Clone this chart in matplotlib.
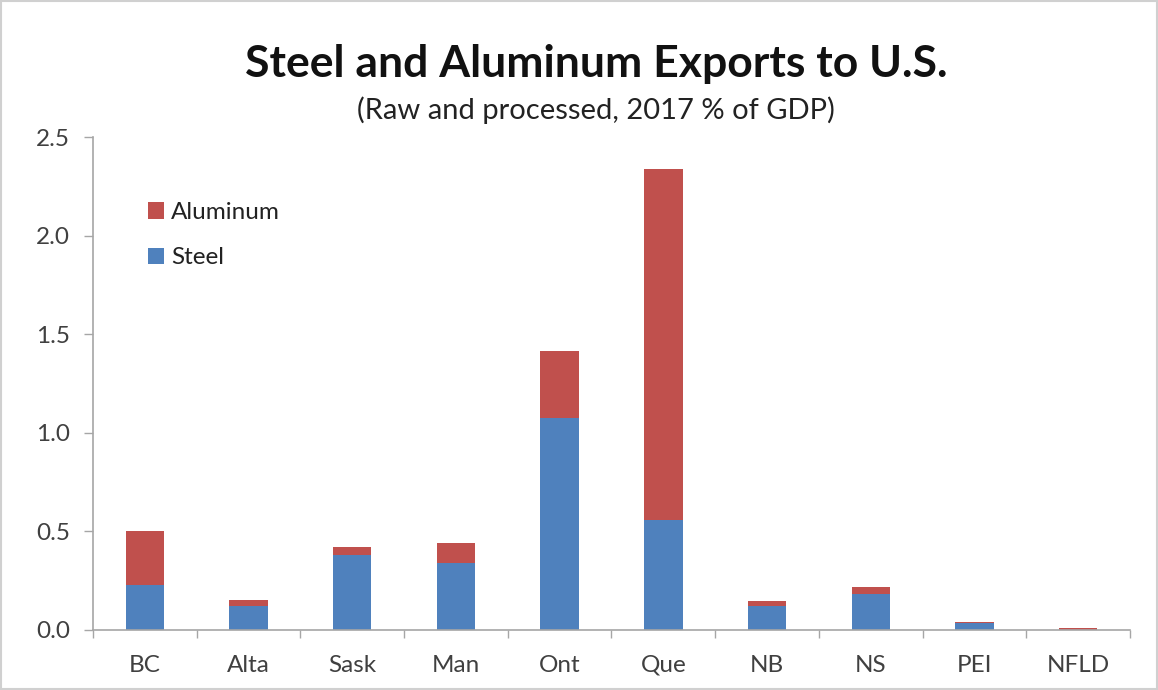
import matplotlib
matplotlib.use("Agg")
import matplotlib.pyplot as plt
from matplotlib.patches import Rectangle
import numpy as np

provinces = ["BC", "Alta", "Sask", "Man", "Ont", "Que", "NB", "NS", "PEI", "NFLD"]
steel = [0.23, 0.12, 0.38, 0.34, 1.075, 0.56, 0.12, 0.18, 0.034, 0.0]
aluminum = [0.27, 0.03, 0.04, 0.10, 0.34, 1.78, 0.025, 0.04, 0.007, 0.012]
yticks = [0.0, 0.5, 1.0, 1.5, 2.0, 2.5]

plt.rcParams['font.family'] = ['Lato', 'DejaVu Sans']

fig = plt.figure(figsize=(11.58, 6.9), dpi=100)
ax = fig.add_axes([0.0803, 0.087, 0.8955, 0.7144])

x = np.arange(len(provinces))
blue = "#4F81BD"
red = "#C0504D"
w = 0.37
ax.bar(x, steel, width=w, color=blue, label="Steel", zorder=2)
ax.bar(x, aluminum, width=w, bottom=steel, color=red, label="Aluminum", zorder=2)

ax.set_xlim(-0.5, len(provinces) - 0.5)
ax.set_ylim(0, 2.5)
ax.set_yticks(yticks)
ax.set_yticklabels([f"{v:.1f}" for v in yticks], fontsize=17.5, color="#404040")
ax.set_xticks(x)
ax.set_xticklabels(provinces, fontsize=17.5, color="#404040")
ax.tick_params(axis='x', length=0, pad=18)
ax.tick_params(axis='y', length=6.5, width=1, color="#A6A6A6", direction='out', pad=10)
ax.set_xticks(np.arange(-0.5, len(provinces) + 0.5, 1), minor=True)
ax.tick_params(axis='x', which='minor', length=5.5, width=1, color="#A6A6A6", direction='out')

for s in ["top", "right"]:
    ax.spines[s].set_visible(False)
for s in ["left", "bottom"]:
    ax.spines[s].set_color("#A6A6A6")
    ax.spines[s].set_linewidth(1.2)

handles, labels = ax.get_legend_handles_labels()
ax.legend(handles[::-1], labels[::-1], loc="upper left", bbox_to_anchor=(0.053, 0.868),
          borderaxespad=0, borderpad=0,
          frameon=False, fontsize=17.5, handlelength=0.65, handleheight=0.65,
          handletextpad=0.3, labelspacing=1.0, labelcolor="#222222")

fig.text(0.515, 0.907, "Steel and Aluminum Exports to U.S.", ha="center", va="center",
         fontsize=32, fontweight="bold", color="#111111")
fig.text(0.515, 0.84, "(Raw and processed, 2017 % of GDP)", ha="center", va="center",
         fontsize=21, color="#222222")

fig.patches.append(Rectangle((0.001, 0.001), 0.998, 0.998, transform=fig.transFigure,
                             fill=False, edgecolor="#D0D0D0", linewidth=1.5))

fig.savefig("out.png", dpi=100)
